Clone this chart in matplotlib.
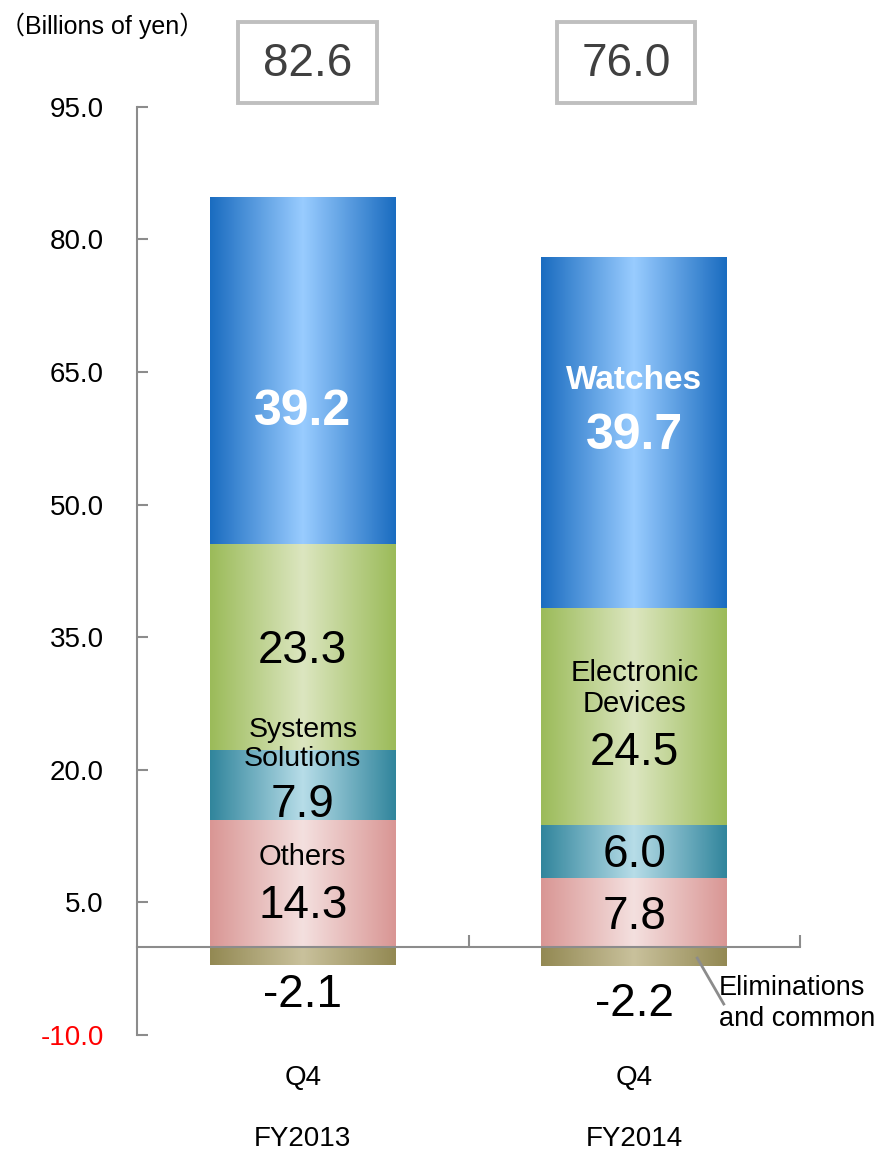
import numpy as np
import matplotlib.pyplot as plt
from matplotlib.colors import LinearSegmentedColormap
from matplotlib.patches import Rectangle

# =========================
# DATA
# =========================

periods = ["FY2013", "FY2014"]
quarters = ["Q4", "Q4"]
totals = [82.6, 76.0]

others = [14.3, 7.8]
systems = [7.9, 6.0]
electronic = [23.3, 24.5]
watches = [39.2, 39.7]
eliminations = [-2.1, -2.2]

yticks = [-10.0, 5.0, 20.0, 35.0, 50.0, 65.0, 80.0, 95.0]

# segment colours: (edge, centre)
seg_colors = {
    "others": ("#d99694", "#f4e0df"),
    "systems": ("#31859c", "#b7dde8"),
    "electronic": ("#9bbb59", "#dce6c0"),
    "watches": ("#1a6cc0", "#99ccff"),
    "elim": ("#938953", "#c9c19c"),
}

plt.rcParams['font.family'] = ['Liberation Sans', 'Noto Sans CJK JP', 'DejaVu Sans']

fig = plt.figure(figsize=(8.8, 11.52), dpi=100)
ax = fig.add_axes([0.1557, 0.1016, 0.7534, 0.8056])

x = np.arange(len(periods))
width = 0.56


def grad_bar(xc, y0, y1, key):
    edge, mid = seg_colors[key]
    cmap = LinearSegmentedColormap.from_list(key, [edge, mid, edge])
    grad = np.linspace(0, 1, 256).reshape(1, -1)
    lo, hi = min(y0, y1), max(y0, y1)
    ax.imshow(grad, extent=[xc - width / 2, xc + width / 2, lo, hi],
              cmap=cmap, aspect='auto', zorder=1, interpolation='bilinear')


for i in x:
    base = 0
    for key, vals in [("others", others), ("systems", systems),
                      ("electronic", electronic), ("watches", watches)]:
        grad_bar(i, base, base + vals[i], key)
        base += vals[i]
    grad_bar(i, 0, eliminations[i], "elim")

ax.set_xlim(-0.5, 1.5)
ax.set_ylim(-10, 95)

# =========================
# AXES STYLE
# =========================

axis_gray = "#8c8c8c"
for s in ["top", "right"]:
    ax.spines[s].set_visible(False)
ax.spines["left"].set_color(axis_gray)
ax.spines["left"].set_linewidth(1.5)
ax.spines["bottom"].set_position(("data", 0))
ax.spines["bottom"].set_color(axis_gray)
ax.spines["bottom"].set_linewidth(1.5)
ax.spines["bottom"].set_zorder(3)

ax.set_yticks(yticks)
ax.set_yticklabels(["%.1f" % v for v in yticks], fontsize=20)
ax.tick_params(axis="y", direction="in", length=8, width=1.5,
               color=axis_gray, pad=24)
ax.get_yticklabels()[0].set_color("red")

ax.set_xticks([0.5, 1.5])
ax.set_xticklabels([])
ax.tick_params(axis="x", direction="in", length=9, width=1.5, color=axis_gray)

# =========================
# LABELS
# =========================

label_pos = [
    # bar 0
    (0, 60.5, "39.2", 36, "white", "bold"),
    (0, 33.4, "23.3", 33, "black", "normal"),
    (0, 22.9, "Systems\nSolutions", 20.5, "black", "normal"),
    (0, 16.0, "7.9", 33, "black", "normal"),
    (0, 10.1, "Others", 21, "black", "normal"),
    (0, 4.6, "14.3", 33, "black", "normal"),
    (0, -5.5, "-2.1", 33, "black", "normal"),
    # bar 1
    (1, 64.1, "Watches", 24, "white", "bold"),
    (1, 57.8, "39.7", 36, "white", "bold"),
    (1, 29.2, "Electronic\nDevices", 21, "black", "normal"),
    (1, 21.9, "24.5", 33, "black", "normal"),
    (1, 10.4, "6.0", 33, "black", "normal"),
    (1, 3.4, "7.8", 33, "black", "normal"),
    (1, -6.5, "-2.2", 33, "black", "normal"),
]
for xi, yi, txt, fs, col, wt in label_pos:
    ax.text(xi, yi, txt, ha="center", va="center", fontsize=fs,
            color=col, fontweight=wt, linespacing=1.15, zorder=4)

# totals in boxes above the bars (box size in figure pixels)
W, H = 880, 1152
boxes = [(238, 22, 139, 81), (557, 22, 138, 81)]
for t, (bx, by, bw, bh) in zip(totals, boxes):
    fig.patches.append(Rectangle((bx / W, 1 - (by + bh) / H), bw / W, bh / H,
                                 transform=fig.transFigure, fc="white",
                                 ec="#bfbfbf", lw=2.8))
    fig.text((bx + bw / 2) / W, 1 - (by + bh / 2 + 2) / H, "%.1f" % t,
             ha="center", va="center", fontsize=33, color="#404040")

# category labels under the axis
for i in x:
    ax.text(i, -0.046, quarters[i], transform=ax.get_xaxis_transform(),
            ha="center", va="center", fontsize=20)
    ax.text(i, -0.112, periods[i], transform=ax.get_xaxis_transform(),
            ha="center", va="center", fontsize=20)

fig.text(0.0, 0.978, "（Billions of yen）", ha="left", va="center", fontsize=18)

# callout for the eliminations segment
ax.plot([1.19, 1.27], [-1.3, -6.5], color=axis_gray, lw=2, zorder=4)
ax.text(1.255, -6.4, "Eliminations\nand common", ha="left", va="center",
        fontsize=19.5, linespacing=1.25, zorder=4)

fig.savefig("out.png", dpi=100)
